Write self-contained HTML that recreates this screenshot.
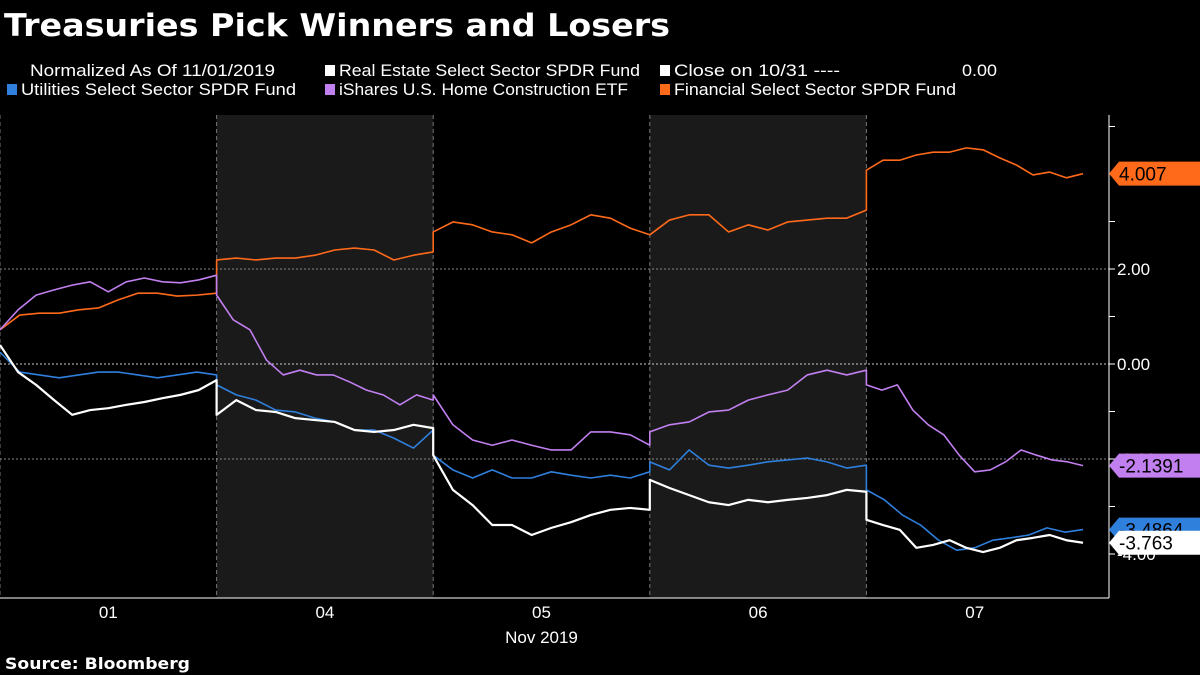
<!DOCTYPE html>
<html><head><meta charset="utf-8"><style>
body{margin:0;background:#000;}
svg{display:block;font-family:"Liberation Sans",sans-serif;}
</style></head><body>
<svg width="1200" height="675" viewBox="0 0 1200 675">
<rect width="1200" height="675" fill="#000"/>
<text x="4" y="36" fill="#fff" font-size="31" font-weight="bold" font-family="DejaVu Sans, sans-serif" textLength="666" lengthAdjust="spacingAndGlyphs">Treasuries Pick Winners and Losers</text>
<g font-size="17" fill="#fff">
<text x="30" y="76" textLength="245" lengthAdjust="spacingAndGlyphs">Normalized As Of 11/01/2019</text>
<g><rect x="325" y="65" width="10" height="11" fill="#fff"/><text x="339" y="76" textLength="301" lengthAdjust="spacingAndGlyphs">Real Estate Select Sector SPDR Fund</text></g>
<g><rect x="660" y="65" width="10" height="11" fill="#fff"/><text x="674" y="76" textLength="166" lengthAdjust="spacingAndGlyphs">Close on 10/31 ----</text><text x="962" y="76" textLength="35" lengthAdjust="spacingAndGlyphs">0.00</text></g>
<g><rect x="7" y="84" width="10" height="11" fill="#2f7fdd"/><text x="21" y="95" textLength="275" lengthAdjust="spacingAndGlyphs">Utilities Select Sector SPDR Fund</text></g>
<g><rect x="325" y="84" width="10" height="11" fill="#c17ff0"/><text x="339" y="95" textLength="289" lengthAdjust="spacingAndGlyphs">iShares U.S. Home Construction ETF</text></g>
<g><rect x="660" y="84" width="10" height="11" fill="#ff6a1a"/><text x="674" y="95" textLength="282" lengthAdjust="spacingAndGlyphs">Financial Select Sector SPDR Fund</text></g>
</g>
<g id="plot"></g>
<text x="5" y="669" fill="#fff" font-size="16" font-weight="bold" font-family="DejaVu Sans, sans-serif" textLength="185" lengthAdjust="spacingAndGlyphs">Source: Bloomberg</text>
</svg>
<script>
const dayLabels=["01","04","05","06","07"];
const yTicks=[4,2,0,-2,-4];
const yTickLabels=["","2.00","0.00","-2.00","-4.00"];
const shadedDays=[1,3];
const financial=[[0.72,1.03,1.07,1.07,1.14,1.18,1.35,1.49,1.49,1.43,1.45,1.49],[2.19,2.23,2.19,2.23,2.23,2.29,2.40,2.44,2.40,2.19,2.29,2.36],[2.78,2.99,2.93,2.78,2.72,2.55,2.78,2.93,3.14,3.07,2.86,2.72],[2.72,3.03,3.14,3.14,2.78,2.93,2.82,2.99,3.03,3.07,3.07,3.24],[4.08,4.29,4.29,4.40,4.46,4.46,4.55,4.51,4.34,4.19,3.98,4.04,3.92,4.007]];
const homeConstruction=[[0.72,1.14,1.45,1.56,1.66,1.73,1.52,1.73,1.81,1.73,1.71,1.77,1.87],[1.45,0.93,0.72,0.08,-0.23,-0.13,-0.23,-0.23,-0.38,-0.55,-0.65,-0.86,-0.65,-0.76],[-0.65,-1.28,-1.6,-1.71,-1.6,-1.71,-1.81,-1.81,-1.43,-1.43,-1.49,-1.71],[-1.43,-1.28,-1.22,-1.01,-0.97,-0.76,-0.65,-0.55,-0.23,-0.13,-0.23,-0.13],[-0.44,-0.55,-0.44,-0.97,-1.28,-1.49,-1.92,-2.27,-2.23,-2.06,-1.81,-1.92,-2.02,-2.06,-2.1391]];
const utilities=[[0.25,-0.17,-0.23,-0.29,-0.23,-0.17,-0.17,-0.23,-0.29,-0.23,-0.17,-0.23],[-0.44,-0.65,-0.76,-0.97,-1.01,-1.14,-1.22,-1.39,-1.39,-1.56,-1.77,-1.39],[-1.92,-2.23,-2.4,-2.23,-2.4,-2.4,-2.27,-2.34,-2.4,-2.34,-2.4,-2.27],[-2.06,-2.23,-1.81,-2.13,-2.19,-2.13,-2.06,-2.02,-1.98,-2.06,-2.19,-2.13],[-2.65,-2.86,-3.18,-3.39,-3.71,-3.92,-3.87,-3.71,-3.66,-3.60,-3.45,-3.54,-3.4864]];
const realEstate=[[0.4,-0.17,-0.44,-0.76,-1.07,-0.97,-0.93,-0.86,-0.8,-0.72,-0.65,-0.55,-0.34],[-1.07,-0.76,-0.97,-1.01,-1.14,-1.18,-1.22,-1.39,-1.43,-1.39,-1.28,-1.35],[-1.92,-2.65,-2.97,-3.39,-3.39,-3.6,-3.45,-3.33,-3.18,-3.07,-3.03,-3.07],[-2.44,-2.61,-2.76,-2.91,-2.97,-2.86,-2.91,-2.86,-2.82,-2.76,-2.65,-2.69],[-3.28,-3.39,-3.49,-3.87,-3.81,-3.71,-3.87,-3.96,-3.87,-3.71,-3.66,-3.6,-3.71,-3.763]];

const NS="http://www.w3.org/2000/svg";
const g=document.getElementById('plot');
const DW=216.6, TOP=115, BOT=598, AX=1109;
const xS=t=>t*DW;
const yS=v=>364-47.5*v;
function mk(tag,attrs,parent){const e=document.createElementNS(NS,tag);for(const k in attrs)e.setAttribute(k,attrs[k]);(parent||g).appendChild(e);return e;}

shadedDays.forEach(d=>{
  const r=mk('rect',{x:xS(d),y:TOP,width:DW,height:BOT-TOP,fill:'#1a1a1a'});
  
  
});
for(let d=0;d<dayLabels.length;d++){
  const l=mk('line',{x1:xS(d),x2:xS(d),y1:TOP,y2:BOT,stroke:'#777','stroke-dasharray':'4,3','stroke-width':1});
  
  
  const t=mk('text',{x:xS(d+0.5),y:618,fill:'#fff','font-size':17,'text-anchor':'middle'});
  t.textContent=dayLabels[d];
  
  
}
const xt=mk('text',{x:xS(2.5),y:643,fill:'#fff','font-size':17,'text-anchor':'middle'});
xt.textContent='Nov 2019';



yTicks.forEach((v,i)=>{
  if(i>0&&i<4){
    const gl=mk('line',{x1:0,x2:AX,y1:yS(v),y2:yS(v),stroke:v===0?'#ccc':'#888','stroke-dasharray':'2,2','stroke-width':1});
    
    
  }
  const lb=mk('text',{x:1117,y:yS(v)+6,fill:'#fff','font-size':17});
  lb.textContent=yTickLabels[i];
  
  
});
for(let v=5;v>=-4;v--){
  const tk=mk('line',{x1:AX,x2:AX+6,y1:yS(v),y2:yS(v),stroke:'#fff'});
  
  
}
const ax=mk('line',{x1:AX,x2:AX,y1:TOP,y2:BOT,stroke:'#fff'});


const bx=mk('line',{x1:0,x2:AX,y1:BOT,y2:BOT,stroke:'#fff'});



function series(data,color,w,name,labelText,textColor){
  const pts=[];
  data.forEach((arr,d)=>arr.forEach((v,i)=>pts.push(xS(d+i/(arr.length-1))+','+yS(v))));
  const p=mk('polyline',{points:pts.join(' '),fill:'none',stroke:color,'stroke-width':w,'stroke-linejoin':'round'});
  
  
  const last=data[data.length-1];const lv=last[last.length-1];const y=yS(lv);
  const lab=mk('g',{});
  
  
  mk('path',{d:`M${AX},${y} L${AX+10},${y-12} L1200,${y-12} L1200,${y+12} L${AX+10},${y+12} Z`,fill:color},lab);
  const t=mk('text',{x:1119,y:y+7,fill:textColor,'font-size':19},lab);
  t.textContent=labelText;
}
series(financial,'#ff6a1a',1.6,'financial-line','4.007','#000');
series(homeConstruction,'#c17ff0',1.6,'home-construction-line','-2.1391','#000');
series(utilities,'#2f7fdd',1.6,'utilities-line','-3.4864','#000');
series(realEstate,'#ffffff',2.2,'real-estate-line','-3.763','#000');
</script>
</body></html>
